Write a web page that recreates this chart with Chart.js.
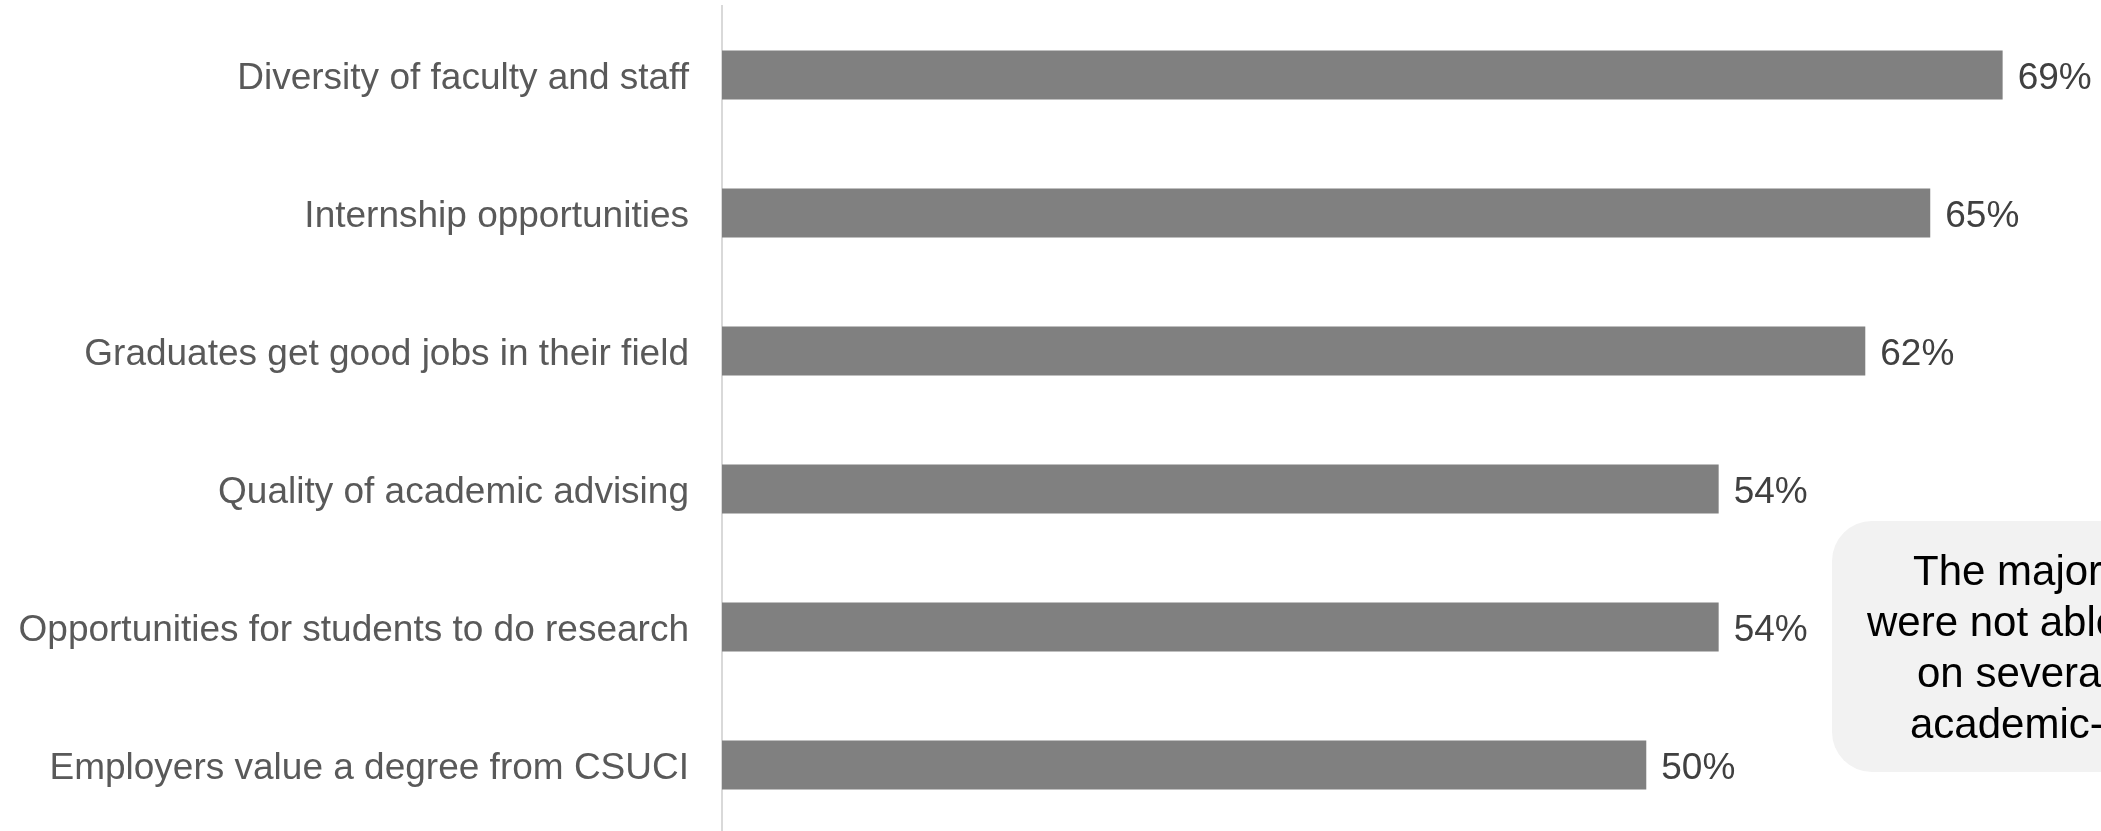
<!DOCTYPE html>
<html>
<head>
<meta charset="utf-8">
<script src="https://cdn.jsdelivr.net/npm/chart.js@4.4.1/dist/chart.umd.min.js"></script>
<style>
  html, body { margin: 0; padding: 0; background: #fff; overflow: hidden; }
  canvas { display: block; }
</style>
</head>
<body>
<canvas id="chart" width="2101" height="834"></canvas>
<script>
// Chart data
const categories = [
  "Diversity of faculty and staff",
  "Internship opportunities",
  "Graduates get good jobs in their field",
  "Quality of academic advising",
  "Opportunities for students to do research",
  "Employers value a degree from CSUCI"
];
// bar lengths (labels show them rounded)
const percentValues = [69, 65.1, 61.6, 53.7, 53.7, 49.8];
const valueSuffix = "%";

// Callout text (partly cut off by the right edge in the original)
const calloutLines = ["The majority", "were not able", "on several", "academic-related"];

const FONT = "'Liberation Sans', Arial, sans-serif";

// Draws the value labels at the end of each bar
const valueLabels = {
  id: "valueLabels",
  afterDatasetsDraw(chart) {
    const ctx = chart.ctx;
    const meta = chart.getDatasetMeta(0);
    ctx.save();
    ctx.font = "37px " + FONT;
    ctx.fillStyle = "#404040";
    ctx.textAlign = "left";
    ctx.textBaseline = "middle";
    meta.data.forEach((bar, i) => {
      ctx.fillText(Math.round(percentValues[i]) + valueSuffix, bar.x + 15, bar.y + 4);
    });
    ctx.restore();
  }
};

// Grey rounded note box on the right
const calloutBox = {
  id: "calloutBox",
  afterDraw(chart) {
    const ctx = chart.ctx;
    ctx.save();
    ctx.fillStyle = "#f2f2f2";
    ctx.beginPath();
    ctx.roundRect(1832, 521, 400, 251, 40);
    ctx.fill();
    ctx.font = "42px " + FONT;
    ctx.fillStyle = "#000";
    ctx.textAlign = "left";
    ctx.textBaseline = "alphabetic";
    const starts = [1913, 1867, 1917, 1910];
    calloutLines.forEach((line, i) => {
      ctx.fillText(line, starts[i], 585 + i * 51);
    });
    ctx.restore();
  }
};

const ctx = document.getElementById("chart").getContext("2d");
new Chart(ctx, {
  type: "bar",
  data: {
    labels: categories,
    datasets: [{
      data: percentValues,
      backgroundColor: "#808080",
      borderWidth: 0,
      barPercentage: 0.355,
      categoryPercentage: 1.0
    }]
  },
  options: {
    indexAxis: "y",
    responsive: false,
    animation: false,
    layout: { padding: { top: 6, left: 0, right: 0, bottom: 0 } },
    plugins: {
      legend: { display: false },
      tooltip: { enabled: false }
    },
    scales: {
      x: {
        min: 0,
        max: 74.3,
        display: false,
        grid: { display: false }
      },
      y: {
        grid: { display: false, drawTicks: false },
        border: { display: true, color: "#d9d9d9", width: 2 },
        ticks: {
          color: "#595959",
          font: { size: 37, family: FONT },
          padding: 33,
          labelOffset: 4
        },
        afterFit(scale) {
          scale.width = 722;
          scale.paddingTop = 0;
          scale.paddingBottom = 0;
        }
      }
    }
  },
  plugins: [valueLabels, calloutBox]
});
</script>
</body>
</html>
